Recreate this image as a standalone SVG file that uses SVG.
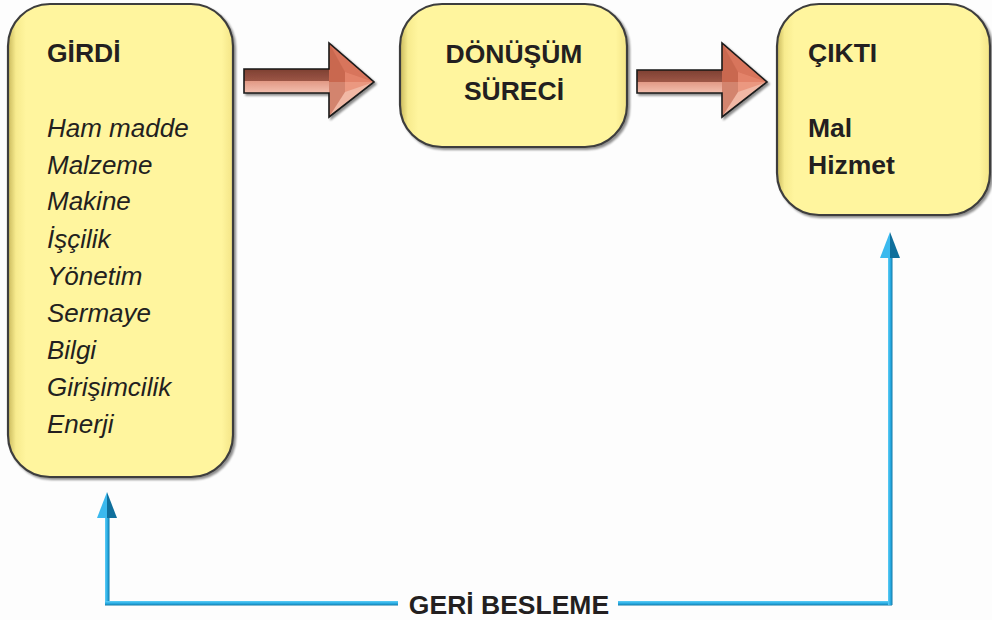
<svg xmlns="http://www.w3.org/2000/svg" width="992" height="620" viewBox="0 0 992 620">
<defs>
<linearGradient id="boxH" x1="0" y1="0" x2="1" y2="0">
<stop offset="0" stop-color="#c9b95c"/>
<stop offset="0.035" stop-color="#f7eb8e"/>
<stop offset="0.08" stop-color="#fff59e"/>
<stop offset="0.95" stop-color="#fff59e"/>
<stop offset="1" stop-color="#f3e486"/>
</linearGradient>
<linearGradient id="shaft" x1="0" y1="0" x2="0" y2="1">
<stop offset="0" stop-color="#7e4032"/>
<stop offset="0.5" stop-color="#9c5646"/>
<stop offset="0.52" stop-color="#e29a86"/>
<stop offset="1" stop-color="#f3c0b0"/>
</linearGradient>
<linearGradient id="blueV" x1="0" y1="0" x2="1" y2="0">
<stop offset="0" stop-color="#5fcdf5"/>
<stop offset="0.5" stop-color="#2aaee6"/>
<stop offset="1" stop-color="#117aa8"/>
</linearGradient>
<linearGradient id="blueH" x1="0" y1="0" x2="0" y2="1">
<stop offset="0" stop-color="#5fcdf5"/>
<stop offset="0.5" stop-color="#2aaee6"/>
<stop offset="1" stop-color="#117aa8"/>
</linearGradient>
<filter id="sh" x="-10%" y="-10%" width="120%" height="120%">
<feGaussianBlur in="SourceAlpha" stdDeviation="1.2"/>
<feOffset dx="1.5" dy="2" result="b"/>
<feComponentTransfer><feFuncA type="linear" slope="0.45"/></feComponentTransfer>
<feMerge><feMergeNode/><feMergeNode in="SourceGraphic"/></feMerge>
</filter>
</defs>
<style>
.box{fill:url(#boxH);stroke:#3e3e3e;stroke-width:2.2}
.t{font-family:"Liberation Sans",Arial,sans-serif;fill:#231f20}
.b{font-weight:bold;font-size:26.5px}
.i{font-style:italic;font-size:26px}
.ol{fill:none;stroke:#1a1a1a;stroke-width:1.6;stroke-linejoin:miter}
</style>
<rect width="992" height="620" fill="#fdfdfd"/>

<g id="girdi">
<rect class="box" x="8" y="4" width="225" height="473" rx="42" filter="url(#sh)"/>
<text class="t b" x="47" y="62">GİRDİ</text>
<text class="t i" x="47" y="137">Ham madde</text>
<text class="t i" x="47" y="174">Malzeme</text>
<text class="t i" x="47" y="210">Makine</text>
<text class="t i" x="47" y="248">İşçilik</text>
<text class="t i" x="47" y="285">Yönetim</text>
<text class="t i" x="47" y="322">Sermaye</text>
<text class="t i" x="47" y="359">Bilgi</text>
<text class="t i" x="47" y="396">Girişimcilik</text>
<text class="t i" x="47" y="433">Enerji</text>
</g>

<g id="donusum">
<rect class="box" x="400" y="4" width="227" height="143" rx="42" filter="url(#sh)"/>
<text class="t b" x="514" y="63" text-anchor="middle">DÖNÜŞÜM</text>
<text class="t b" x="514" y="100" text-anchor="middle">SÜRECİ</text>
</g>

<g id="cikti">
<rect class="box" x="777" y="4" width="213" height="211" rx="42" filter="url(#sh)"/>
<text class="t b" x="808" y="62">ÇIKTI</text>
<text class="t b" x="808" y="137">Mal</text>
<text class="t b" x="808" y="174">Hizmet</text>
</g>

<g id="connectors">
<g id="arrow1" filter="url(#sh)">
<rect x="244" y="69" width="86" height="24" fill="url(#shaft)"/>
<polygon points="329,43 374,82 329,82" fill="#d8745b"/>
<polygon points="329,82 374,82 329,117" fill="#f1b8a5"/>
<polygon points="329,43 345,72 345,92 329,117" fill="#c0604a" opacity="0.6"/>
<polygon points="345,72 374,82 345,92" fill="#e88a70" opacity="0.7"/>
<path class="ol" d="M244,69 H329 V43 L374,82 L329,117 V93 H244 Z"/>
</g>
<g id="arrow2" filter="url(#sh)">
<rect x="637" y="70" width="86" height="23" fill="url(#shaft)"/>
<polygon points="722,43 767,82 722,82" fill="#d8745b"/>
<polygon points="722,82 767,82 722,117" fill="#f1b8a5"/>
<polygon points="722,43 738,72 738,92 722,117" fill="#c0604a" opacity="0.6"/>
<polygon points="738,72 767,82 738,92" fill="#e88a70" opacity="0.7"/>
<path class="ol" d="M637,70 H722 V43 L767,82 L722,117 V93 H637 Z"/>
</g>
<g id="feedback">
<rect x="105" y="516" width="4.5" height="89" fill="url(#blueV)"/>
<rect x="105" y="601" width="293" height="4.5" fill="url(#blueH)"/>
<rect x="618" y="601" width="274" height="4.5" fill="url(#blueH)"/>
<rect x="888" y="256" width="4.5" height="349" fill="url(#blueV)"/>
<polygon points="107,492 97,518 107,518" fill="#3bb9ee"/>
<polygon points="107,492 117,518 107,518" fill="#0f6f9c"/>
<polygon points="890,232 880,258 890,258" fill="#3bb9ee"/>
<polygon points="890,232 900,258 890,258" fill="#0f6f9c"/>
</g>
<text class="t b" x="509" y="614" text-anchor="middle">GERİ BESLEME</text>
</g>
</svg>
